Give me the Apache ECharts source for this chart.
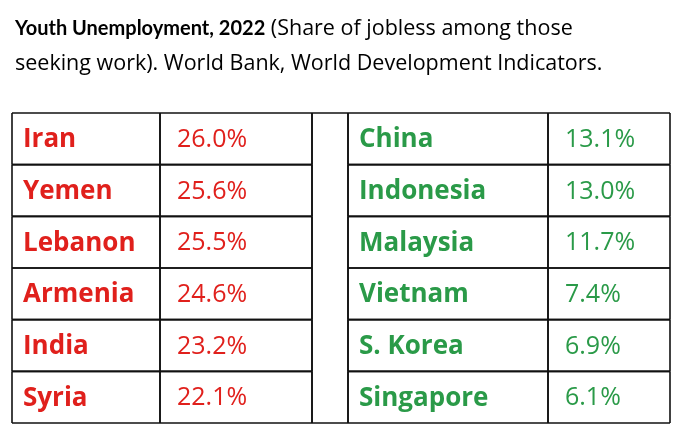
<!DOCTYPE html>
<html><head><meta charset="utf-8">
<script src="https://cdn.jsdelivr.net/npm/echarts@6/dist/echarts.min.js"></script>
<style>body{margin:0}#main{width:680px;height:430px}</style>
</head><body><div id="main"></div>
<script>
var highNames = ['Iran', 'Yemen', 'Lebanon', 'Armenia', 'India', 'Syria'];
var highValues = [26.0, 25.6, 25.5, 24.6, 23.2, 22.1];
var lowNames = ['China', 'Indonesia', 'Malaysia', 'Vietnam', 'S. Korea', 'Singapore'];
var lowValues = [13.1, 13.0, 11.7, 7.4, 6.9, 6.1];

// column edges of the table, in x-axis units
var colEdges = [0, 148, 300, 336, 536, 658];
var red = '#e0201c', green = '#2a9a48';

var cells = [];
for (var i = 0; i < 6; i++) {
    cells.push([0, i, highNames[i], red, 'bold']);
    cells.push([1, i, highValues[i].toFixed(1) + '%', red, 'normal']);
    cells.push([2, i, '', '#000', 'normal']);
    cells.push([3, i, lowNames[i], green, 'bold']);
    cells.push([4, i, lowValues[i].toFixed(1) + '%', green, 'normal']);
}

function renderItem(params, api) {
    var col = api.value(0), row = api.value(1);
    var p0 = api.coord([colEdges[col], row]);
    var p1 = api.coord([colEdges[col + 1], row + 1]);
    var d = cells[params.dataIndex];
    var isGap = col === 2;
    var children = [];
    var st = {stroke: '#111', lineWidth: 1.6};
    children.push({type: 'line', shape: {x1: p0[0], y1: p0[1], x2: p0[0], y2: p1[1]}, style: st});
    children.push({type: 'line', shape: {x1: p1[0], y1: p0[1], x2: p1[0], y2: p1[1]}, style: st});
    if (!isGap || row === 0) children.push({type: 'line', shape: {x1: p0[0], y1: p0[1], x2: p1[0], y2: p0[1]}, style: st});
    if (!isGap || row === 5) children.push({type: 'line', shape: {x1: p0[0], y1: p1[1], x2: p1[0], y2: p1[1]}, style: st});
    if (d[2]) {
        var bold = d[4] === 'bold';
        children.push({type: 'text', style: {
            x: p0[0] + (bold ? 11 : 17), y: (p0[1] + p1[1]) / 2 + 1,
            text: d[2], fill: d[3], fontWeight: d[4], fontSize: bold ? 26 : 25,
            fontFamily: 'Open Sans', verticalAlign: 'middle', align: 'left'
        }});
    }
    return {type: 'group', children: children};
}

var option = {
    backgroundColor: '#fff',
    title: {
        left: 10, top: 6,
        text: '{b|Youth Unemployment, 2022} (Share of jobless among those\nseeking work). World Bank, World Development Indicators.',
        textStyle: {
            fontFamily: 'Open Sans', fontSize: 21.5, fontWeight: 'normal', color: '#000', lineHeight: 35,
            rich: {b: {fontFamily: 'Lato', fontSize: 20, fontWeight: 'bold', color: '#000'}}
        }
    },
    grid: {left: 12, right: 10, top: 113, bottom: 7},
    xAxis: {type: 'value', min: 0, max: 658, show: false},
    yAxis: {type: 'value', min: 0, max: 6, inverse: true, show: false},
    series: [{
        type: 'custom',
        renderItem: renderItem,
        data: cells.map(function (c) { return [c[0], c[1]]; }),
        silent: true
    }]
};

var myChart = echarts.init(document.getElementById('main'));
myChart.setOption(option);
</script>
</body></html>
